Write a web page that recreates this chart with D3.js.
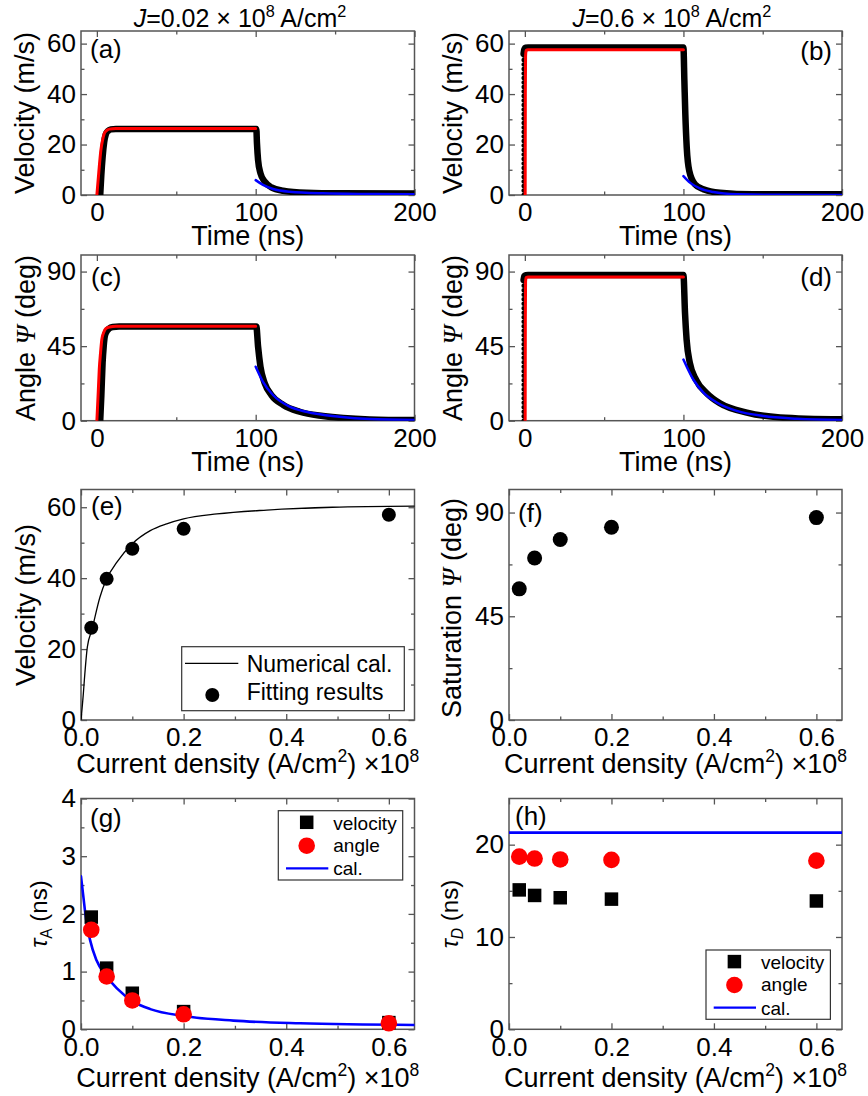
<!DOCTYPE html>
<meta charset="utf-8">
<style>
body, html {
  margin: 0;
  padding: 0;
  background: #fff;
}
svg {
  display: block;
  font-family: "Liberation Sans", Arial, sans-serif;
}
.tick text {
  font-family: "Liberation Sans", Arial, sans-serif;
  font-size: 26px;
  fill: #000;
}
.tick line {
  stroke: #555;
  stroke-width: 1.3px;
}
.frame {
  fill: none;
  stroke: #555;
  stroke-width: 1.5px;
}
</style>
<body>
<script src="https://d3js.org/d3.v7.min.js"></script>
<script>

var width = 868,
    height = 1096

// tick values
var timeTicks = [0, 100, 200], timeMinor = [50, 150]
var velTicks = [0, 20, 40, 60], velMinor = [10, 30, 50]
var angTicks = [0, 45, 90], angMinor = [22.5, 67.5]
var jTicks = [0, 0.2, 0.4, 0.6], jMinor = [0.1, 0.3, 0.5]
var tauATicks = [0, 1, 2, 3, 4], tauAMinor = [0.5, 1.5, 2.5, 3.5]
var tauDTicks = [0, 10, 20], tauDMinor = [5, 15]

// time traces [t (ns), value], J = 0.02e8 A/cm2
var simVelLow = [[2.1,0],[2.8,8],[3.6,15],[4.6,21],[5.6,24],[7,25.4],[8.8,26],[12,26.2],[100.4,26.2],[100.8,20.5],[101.5,13.9],[103,8.6],[105.7,5.3],[109.9,3.0],[117.2,1.7],[131.9,0.9],[152.8,0.66],[200,0.6]]
var fitVelLow = [[0,0],[1.2,9],[2.5,17.7],[3.5,21.5],[4.6,24.3],[6,25.5],[7.7,26.1],[12,26.4],[100,26.4]]
var decVelLow = [[100,5.9],[104.6,4.0],[110.9,2.4],[121.4,1.3],[142.3,0.66],[169.7,0.4],[200,0.3]]
var simAngLow = [[2.1,0],[2.8,15],[3.6,35],[4.3,45],[5,51],[6.2,54],[7.7,55.6],[10,56.5],[14,56.8],[100.4,56.8],[101.5,44.7],[103,32.6],[105.7,22.6],[109.9,15.5],[117.4,9.5],[127.7,5.4],[142.3,2.8],[171.7,0.8],[200,0.4]]
var fitAngLow = [[0,0],[0.8,16],[1.5,31],[2.3,41],[3.1,49],[4.2,53],[5.6,55.6],[8,56.6],[12,57],[100,57]]
var decAngLow = [[100,32.6],[104.6,23.5],[110.9,15.5],[121.4,8.5],[131.9,5.4],[152.8,2.4],[171.7,1.0],[200,0.4]]

// time traces, J = 0.6e8 A/cm2
var riseVelHigh = [[-0.8,0],[-0.8,56]]
var simVelHigh = [[-0.8,56],[-0.3,57.8],[0.5,58.4],[2,58.5],[100,58.5],[100.6,45.2],[101.2,32],[102.1,18.7],[103.7,9.5],[107.3,4.2],[112.5,2.3],[123,0.9],[144,0.3],[200,0.3]]
var fitVelHigh = [[0.2,0],[0.3,40],[0.45,55],[0.8,57.3],[2,57.6],[100,57.6]]
var decVelHigh = [[100,7.5],[104.1,4.9],[110.4,2.6],[118.8,1.2],[133.6,0.3],[160,0.05],[200,0]]
var riseAngHigh = [[-0.8,0],[-0.8,85]]
var simAngHigh = [[-0.8,85],[-0.3,87.3],[0.5,87.8],[2,87.9],[100,87.9],[101,65],[102,49],[104,35],[108,24.7],[114.7,16.6],[123,10.5],[140,4.9],[161,2],[200,0.8]]
var fitAngHigh = [[0.2,0],[0.3,60],[0.45,84],[0.8,86.4],[2,86.7],[100,86.7]]
var decAngHigh = [[100,36.9],[106.3,24.7],[112.6,17],[121,11],[133.7,5.9],[150.5,2.8],[171.6,1.2],[200,0.4]]

// current density sweep (x 1e8 A/cm2)
var currents = [0.02, 0.05, 0.1, 0.2, 0.6]
var satVelocity = [26, 39.8, 48.3, 53.9, 57.9]
var satAngle = [56.9, 70.3, 78.3, 83.6, 87.8]
var tauAVel = [1.945, 1.06, 0.625, 0.307, 0.116]
var tauAAng = [1.725, 0.915, 0.5, 0.26, 0.104]
var tauDVel = [15.1, 14.5, 14.25, 14.1, 13.9]
var tauDAng = [18.7, 18.5, 18.4, 18.35, 18.27]
var tauDCal = 21.3
var velCal = [[0,0],[0.0046,7.5],[0.0065,11.2],[0.0124,20.6],[0.021,25.3],[0.037,34.7],[0.05,39.8],[0.07,44.5],[0.1,49.7],[0.135,53.4],[0.167,55.3],[0.2,56.7],[0.265,58.1],[0.362,59.2],[0.49,60],[0.65,60.3]]
var tauACal = [[0,2.65],[0.0046,2.3],[0.01,1.9],[0.0176,1.55],[0.03,1.2],[0.05,0.915],[0.07,0.71],[0.102,0.48],[0.135,0.35],[0.2,0.23],[0.297,0.15],[0.427,0.104],[0.65,0.075]]

var svg = d3.select("body").append("svg")
    .attr("width", width)
    .attr("height", height)

var cols = [[81, 414.5], [509, 842]]
var rows = [[31, 195], [255, 420.7], [489.5, 720], [798.5, 1029.3]]
var clipN = 0

function ticks (g, axis, tx, ty) {
  var a = g.append("g").attr("transform", "translate(" + tx + "," + ty + ")").call(axis)
  a.select(".domain").remove()
  a.attr("font-size", null).attr("font-family", null)
}

function panel (o) {
  var c = cols[o.col], r = rows[o.row]
  var x = d3.scaleLinear().domain(o.xd).range(c)
  var y = d3.scaleLinear().domain(o.yd).range([r[1], r[0]])
  var g = svg.append("g")
  var id = "clip" + (clipN++)
  g.append("clipPath").attr("id", id).append("rect")
    .attr("x", c[0]).attr("y", r[0]).attr("width", c[1] - c[0]).attr("height", r[1] - r[0])

  ticks(g, d3.axisBottom(x).tickValues(o.xt).tickFormat(o.xf).tickSize(-6).tickPadding(8), 0, r[1])
  ticks(g, d3.axisBottom(x).tickValues(o.xm).tickFormat("").tickSize(-3.5), 0, r[1])
  ticks(g, d3.axisTop(x).tickValues(o.xt).tickFormat("").tickSize(-6), 0, r[0])
  ticks(g, d3.axisTop(x).tickValues(o.xm).tickFormat("").tickSize(-3.5), 0, r[0])
  ticks(g, d3.axisLeft(y).tickValues(o.yt).tickFormat(d3.format("")).tickSize(-6).tickPadding(5), c[0], 0)
  ticks(g, d3.axisLeft(y).tickValues(o.ym).tickFormat("").tickSize(-3.5), c[0], 0)
  ticks(g, d3.axisRight(y).tickValues(o.yt).tickFormat("").tickSize(-6), c[1], 0)
  ticks(g, d3.axisRight(y).tickValues(o.ym).tickFormat("").tickSize(-3.5), c[1], 0)

  g.append("rect").attr("class", "frame")
    .attr("x", c[0]).attr("y", r[0]).attr("width", c[1] - c[0]).attr("height", r[1] - r[0])

  var plot = g.append("g").attr("clip-path", "url(#" + id + ")")
  return {x: x, y: y, g: g, plot: plot, left: c[0], right: c[1], top: r[0], bottom: r[1]}
}

// text with italic / super / subscript pieces
function rich (x, y, fs, parts, anchor, rotate) {
  var t = svg.append("text")
      .attr("x", x).attr("y", y)
      .attr("font-size", fs)
      .attr("text-anchor", anchor || "start")
  if (rotate) t.attr("transform", "rotate(-90 " + x + " " + y + ")")
  var shift = 0
  parts.forEach(function (p) {
    var s = t.append("tspan").text(p[0])
    var want = p[1] === "sup" ? -0.4 * fs : p[1] === "sub" ? 0.22 * fs : 0
    if (want !== shift) s.attr("dy", want - shift), shift = want
    if (p[1] === "sup" || p[1] === "sub") s.attr("font-size", fs * 0.65)
    if (p[1] === "i" || p[3]) s.attr("font-style", "italic")
    if (p[2]) s.attr("font-family", p[2])
  })
  return t
}

function trace (p, data, color, w, curve) {
  return p.plot.append("path")
    .datum(data)
    .attr("fill", "none")
    .attr("stroke", color)
    .attr("stroke-width", w)
    .attr("stroke-linejoin", "round")
    .attr("stroke-linecap", "round")
    .attr("d", d3.line()
      .curve(curve || d3.curveMonotoneX)
      .x(function (d) { return p.x(d[0]) })
      .y(function (d) { return p.y(d[1]) }))
}

function dots (p, data) {
  trace(p, data, "#000", 4.4, d3.curveLinear).attr("stroke-dasharray", "0 4.5")
}

var fmtInt = d3.format("d"), fmtJ = d3.format(".1f")
var timeX = {xd: [-10, 200], xt: timeTicks, xm: timeMinor, xf: fmtInt}
var curX = {xd: [0, 0.65], xt: jTicks, xm: jMinor, xf: fmtJ}

var pa = panel(Object.assign({col: 0, row: 0, yd: [0, 65], yt: velTicks, ym: velMinor}, timeX))
var pb = panel(Object.assign({col: 1, row: 0, yd: [0, 65], yt: velTicks, ym: velMinor}, timeX))
var pc = panel(Object.assign({col: 0, row: 1, yd: [0, 100], yt: angTicks, ym: angMinor}, timeX))
var pd = panel(Object.assign({col: 1, row: 1, yd: [0, 100], yt: angTicks, ym: angMinor}, timeX))
var pe = panel(Object.assign({col: 0, row: 2, yd: [0, 65], yt: velTicks, ym: velMinor}, curX))
var pf = panel(Object.assign({col: 1, row: 2, yd: [0, 100], yt: angTicks, ym: angMinor}, curX))
var pg = panel(Object.assign({col: 0, row: 3, yd: [0, 4], yt: tauATicks, ym: tauAMinor}, curX))
var ph = panel(Object.assign({col: 1, row: 3, yd: [0, 25], yt: tauDTicks, ym: tauDMinor}, curX))

// (a)-(d) time traces
trace(pa, simVelLow, "#000", 6.5)
trace(pa, fitVelLow, "#f00", 3)
trace(pa, decVelLow, "#00f", 2.5)

dots(pb, riseVelHigh)
trace(pb, simVelHigh, "#000", 6.5)
trace(pb, fitVelHigh, "#f00", 3)
trace(pb, decVelHigh, "#00f", 2.5)

trace(pc, simAngLow, "#000", 6.5)
trace(pc, fitAngLow, "#f00", 3)
trace(pc, decAngLow, "#00f", 2.5)

dots(pd, riseAngHigh)
trace(pd, simAngHigh, "#000", 6.5)
trace(pd, fitAngHigh, "#f00", 3)
trace(pd, decAngHigh, "#00f", 2.5)

// (e) saturation velocity
trace(pe, velCal, "#000", 1.3)
pe.g.selectAll(".pt").data(currents).enter().append("circle")
    .attr("cx", function (d) { return pe.x(d) })
    .attr("cy", function (d, i) { return pe.y(satVelocity[i]) })
    .attr("r", 7)

// (f) saturation angle
pf.g.selectAll(".pt").data(currents).enter().append("circle")
    .attr("cx", function (d) { return pf.x(d) })
    .attr("cy", function (d, i) { return pf.y(satAngle[i]) })
    .attr("r", 7.5)

function squares (p, vals, s) {
  p.g.append("g").selectAll("rect").data(currents).enter().append("rect")
    .attr("x", function (d) { return p.x(d) - s / 2 })
    .attr("y", function (d, i) { return p.y(vals[i]) - s / 2 })
    .attr("width", s).attr("height", s)
    .attr("fill", "#000")
}
function reds (p, vals, r) {
  p.g.append("g").selectAll("circle").data(currents).enter().append("circle")
    .attr("cx", function (d) { return p.x(d) })
    .attr("cy", function (d, i) { return p.y(vals[i]) })
    .attr("r", r)
    .attr("fill", "#f00")
}

// (g) tau_A
squares(pg, tauAVel, 13.5)
reds(pg, tauAAng, 8.3)
trace(pg, tauACal, "#00f", 2.6)

// (h) tau_D
trace(ph, [[0, tauDCal], [0.65, tauDCal]], "#00f", 2.6, d3.curveLinear)
squares(ph, tauDVel, 13.5)
reds(ph, tauDAng, 8.3)

// panel letters
rich(90, 58, 26, [["(a)", ""]])
rich(832, 60, 26, [["(b)", ""]], "end")
rich(91, 286, 26, [["(c)", ""]])
rich(832, 286, 26, [["(d)", ""]], "end")
rich(91, 515, 26, [["(e)", ""]])
rich(518, 522, 26, [["(f)", ""]])
rich(90, 827, 26, [["(g)", ""]])
rich(515, 825, 26, [["(h)", ""]])

// column titles
rich(240, 27, 25, [["J", "i"], ["=0.02 × 10", ""], ["8", "sup"], [" A/cm", ""], ["2", "sup"]], "middle")
rich(672, 27, 25, [["J", "i"], ["=0.6 × 10", ""], ["8", "sup"], [" A/cm", ""], ["2", "sup"]], "middle")

// x axis titles
var jTitle = [["Current density (A/cm", ""], ["2", "sup"], [") ×10", ""], ["8", "sup"]]
;[pa, pb, pc, pd].forEach(function (p) {
  rich((p.left + p.right) / 2, p.bottom + 50, 27, [["Time (ns)", ""]], "middle")
})
;[pe, pf].forEach(function (p) {
  rich((p.left + p.right) / 2, p.bottom + 53, 27, jTitle, "middle")
})
;[pg, ph].forEach(function (p) {
  rich((p.left + p.right) / 2, p.bottom + 57.5, 27, jTitle, "middle")
})

// y axis titles
var psi = "Liberation Serif"
rich(34, 113, 27, [["Velocity (m/s)", ""]], "middle", true)
rich(462, 113, 27, [["Velocity (m/s)", ""]], "middle", true)
rich(35, 338, 27, [["Angle ", ""], ["Ψ", "i", psi], [" (deg)", ""]], "middle", true)
rich(462, 338, 27, [["Angle ", ""], ["Ψ", "i", psi], [" (deg)", ""]], "middle", true)
rich(34.5, 605, 27, [["Velocity (m/s)", ""]], "middle", true)
rich(461, 608, 27, [["Saturation ", ""], ["Ψ", "i", psi], [" (deg)", ""]], "middle", true)
rich(47, 914, 24, [["τ", "i"], ["A", "sub"], [" (ns)", ""]], "middle", true)
rich(458, 914, 24, [["τ", "i"], ["D", "sub", null, true], [" (ns)", ""]], "middle", true)

// legends
function box (x, y, w, h) {
  svg.append("rect").attr("x", x).attr("y", y).attr("width", w).attr("height", h)
    .attr("fill", "#fff").attr("stroke", "#333").attr("stroke-width", 1.2)
}

box(181.7, 646.7, 222.6, 64)
svg.append("line").attr("x1", 185).attr("x2", 238.3).attr("y1", 663.3).attr("y2", 663.3)
    .attr("stroke", "#000").attr("stroke-width", 1.3)
rich(246.7, 671.7, 23, [["Numerical cal.", ""]])
svg.append("circle").attr("cx", 212.3).attr("cy", 695).attr("r", 7)
rich(246.7, 699.5, 23, [["Fitting results", ""]])

function smallLegend (x, y) {
  box(x, y, 124.4, 69.3)
  svg.append("rect").attr("x", x + 28.4 - 6.75).attr("y", y + 11.6 - 6.75).attr("width", 13.5).attr("height", 13.5)
  svg.append("circle").attr("cx", x + 28.4).attr("cy", y + 35).attr("r", 8.3).attr("fill", "#f00")
  svg.append("line").attr("x1", x + 7.7).attr("x2", x + 50).attr("y1", y + 57.6).attr("y2", y + 57.6)
      .attr("stroke", "#00f").attr("stroke-width", 2.2)
  rich(x + 55, y + 19, 19, [["velocity", ""]])
  rich(x + 55, y + 41, 19, [["angle", ""]])
  rich(x + 55, y + 64.5, 19, [["cal.", ""]])
}
smallLegend(278.3, 810.7)
smallLegend(706, 950)

</script>
</body>
